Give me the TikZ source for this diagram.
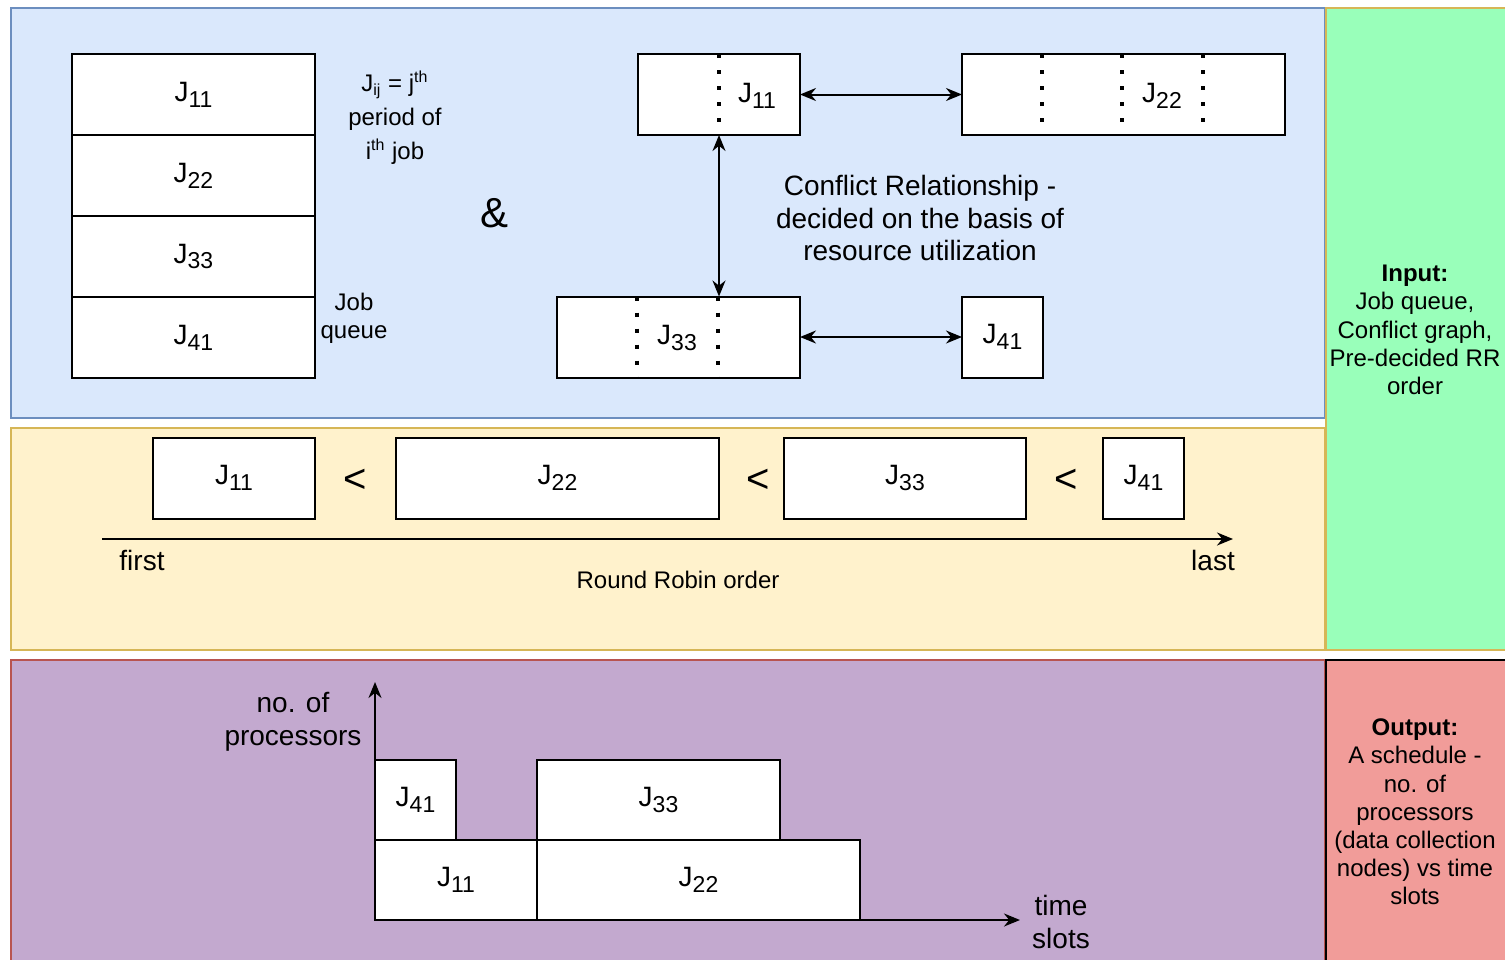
\documentclass[tikz,border=0pt]{standalone}
\usepackage{fontspec}
\setmainfont{Liberation Sans}
\usepackage{tikz}
\usetikzlibrary{arrows.meta, positioning, calc}

\definecolor{bluefill}{HTML}{DAE8FC}
\definecolor{bluedraw}{HTML}{6C8EBF}
\definecolor{yellowfill}{HTML}{FFF2CC}
\definecolor{yellowdraw}{HTML}{D6B656}
\definecolor{purplefill}{HTML}{C3A9CF}
\definecolor{reddraw}{HTML}{B85450}
\definecolor{greenfill}{HTML}{99FFBA}
\definecolor{redfill}{HTML}{F19C99}

\newcommand{\jsub}[1]{J\raisebox{-0.4ex}{\fontsize{11.5}{12}\selectfont #1}}

\begin{document}
\begin{tikzpicture}[
    x=0.5pt, y=-0.5pt,
    node distance=0pt,
    jobbox/.style={rectangle, draw, fill=white, line width=1pt, inner sep=0pt, outer sep=0pt, minimum height=40.5pt, font=\fontsize{14}{15}\selectfont},
    jtext/.style={inner sep=0pt, font=\fontsize{14}{15}\selectfont},
    panel/.style={line width=1pt},
    lbl/.style={align=center, inner sep=1pt, font=\fontsize{12}{14.1}\selectfont},
    biglbl/.style={align=center, inner sep=1pt, font=\fontsize{14}{16.3}\selectfont},
    ltsign/.style={inner sep=0pt, font=\fontsize{20}{24}\selectfont},
    sepline/.style={line width=1.7pt, dash pattern=on 2pt off 6pt},
    arr/.style={-{Stealth[length=8pt, width=6.5pt]}, line width=1.1pt},
    dualarr/.style={{Stealth[length=8pt, width=6.5pt]}-{Stealth[length=8pt, width=6.5pt]}, line width=1pt},
]
    \useasboundingbox (0,0) rectangle (1505,959);
    \clip (0,0) rectangle (1505,959);

    % Panels
    \draw[panel, fill=bluefill, draw=bluedraw]     (11,8)    rectangle (1325,418);
    \draw[panel, fill=yellowfill, draw=yellowdraw] (11,428)  rectangle (1325,650);
    \draw[panel, fill=purplefill, draw=reddraw]    (11,660)  rectangle (1325,975);
    \draw[panel, fill=greenfill, draw=yellowdraw]  (1326,8)  rectangle (1520,650);
    \draw[panel, fill=redfill, draw=black]         (1326,660) rectangle (1520,975);

    % Job queue (left)
    \node[jobbox, minimum width=121.5pt] (q11) at (193.5,94.5) {\jsub{11}};
    \node[jobbox, minimum width=121.5pt, below=of q11] (q22) {\jsub{22}};
    \node[jobbox, minimum width=121.5pt, below=of q22] (q33) {\jsub{33}};
    \node[jobbox, minimum width=121.5pt, below=of q33] (q41) {\jsub{41}};

    \node[lbl, font=\fontsize{12}{17}\selectfont] (jdef) at (395,118) {J\textsubscript{ij} = j\textsuperscript{th}\\period of\\i\textsuperscript{th} job};
    \node[lbl] (qname) at (354,318) {Job\\queue};
    \node[inner sep=0pt, font=\fontsize{21}{24}\selectfont] (amp) at (495,213) {\&};

    % Conflict graph
    \node[jobbox, minimum width=81pt]    (c11) at (719,94.5)   {};
    \node[jobbox, minimum width=161.5pt] (c22) at (1123.5,94.5) {};
    \node[jobbox, minimum width=121.5pt] (c33) at (678.5,337)  {};
    \node[jobbox, minimum width=40.5pt]  (c41) at (1002.5,337) {\jsub{41}};

    \draw[sepline] (c11.north) -- (c11.south);
    \foreach \dx in {80,160,241}
        \draw[sepline] ($(c22.north west)+(\dx,0)$) -- ($(c22.south west)+(\dx,0)$);
    \foreach \dx in {80,161}
        \draw[sepline] ($(c33.north west)+(\dx,0)$) -- ($(c33.south west)+(\dx,0)$);

    \node[jtext] (c11t) at (757,96)  {\jsub{11}};
    \node[jtext] (c22t) at (1162,96) {\jsub{22}};
    \node[jtext] (c33t) at (677,338) {\jsub{33}};

    \draw[dualarr] (c11) -- (c22);
    \draw[dualarr] (c11.south) -- (c11.south |- c33.north);
    \draw[dualarr] (c33) -- (c41);

    \node[biglbl] (conflict) at (920,218) {Conflict Relationship -\\decided on the basis of\\resource utilization};

    % Round robin order
    \node[jobbox, minimum width=81pt]    (r11) at (234,478)    {\jsub{11}};
    \node[jobbox, minimum width=161.5pt] (r22) at (557.5,478)  {\jsub{22}};
    \node[jobbox, minimum width=121pt]   (r33) at (905,478)    {\jsub{33}};
    \node[jobbox, minimum width=40.5pt]  (r41) at (1143.5,478) {\jsub{41}};

    \node[ltsign] (lt1) at (355,481)  {<};
    \node[ltsign] (lt2) at (758,481)  {<};
    \node[ltsign] (lt3) at (1066,481) {<};

    \coordinate (rrfirst) at (102,539);
    \coordinate (rrlast)  at (1233,539);
    \draw[arr] (rrfirst) -- (rrlast);
    \node[biglbl] (first) at (142,560)   {first};
    \node[biglbl] (last)  at (1213,560)  {last};
    \node[lbl]    (rrname) at (678,580)  {Round Robin order};

    % Schedule
    \node[jobbox, minimum width=40.5pt, minimum height=40pt]  (g41) at (415.5,800) {\jsub{41}};
    \node[jobbox, minimum width=121.5pt, minimum height=40pt] (g33) at (658.5,800) {\jsub{33}};
    \node[jobbox, minimum width=81pt, minimum height=40pt]    (g11) at (456,880)   {\jsub{11}};
    \node[jobbox, minimum width=161.5pt, minimum height=40pt] (g22) at (698.5,880) {\jsub{22}};

    \coordinate (origin) at (375,920);
    \coordinate (ytop)   at (375,682);
    \coordinate (xend)   at (1020,920);
    \draw[arr] (origin) -- (ytop);
    \draw[arr] (origin) -- (xend);
    \node[biglbl] (ylabel) at (293,722)  {no. of\\processors};
    \node[biglbl] (xlabel) at (1061,922) {time\\slots};

    % Input / output
    \node[lbl] (input)  at (1415,330) {\textbf{Input:}\\Job queue,\\Conflict graph,\\Pre-decided RR\\order};
    \node[lbl] (output) at (1415,812) {\textbf{Output:}\\A schedule -\\no. of\\processors\\(data collection\\nodes) vs time\\slots};
\end{tikzpicture}
\end{document}
